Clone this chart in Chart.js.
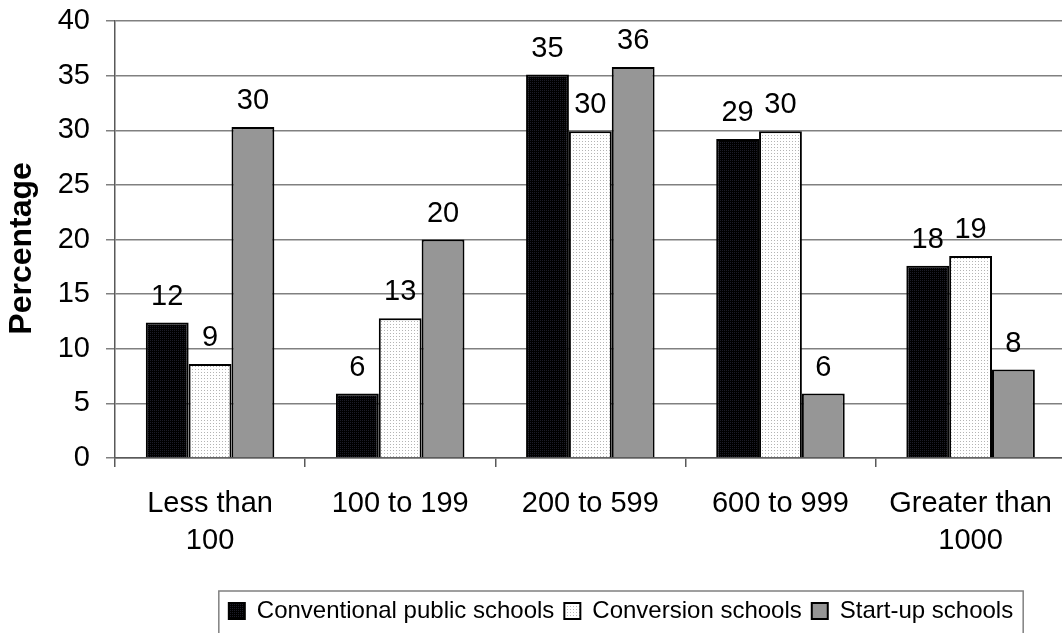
<!DOCTYPE html>
<html>
<head>
<meta charset="utf-8">
<script src="https://cdn.jsdelivr.net/npm/chart.js@4.4.1/dist/chart.umd.min.js"></script>
<style>
  html, body { margin: 0; padding: 0; background: #fff; overflow: hidden; }
  canvas { display: block; }
</style>
</head>
<body>
<canvas id="myChart" width="1070" height="633"></canvas>
<script>
var categories = [["Less than", "100"], "100 to 199", "200 to 599", "600 to 999", ["Greater than", "1000"]];
var conventional = [12.4, 5.9, 35.1, 29.2, 17.6];
var conversion = [8.6, 12.8, 29.9, 29.9, 18.5];
var startup = [30.3, 20.0, 35.8, 5.9, 8.1];
var yTicks = [0, 5, 10, 15, 20, 25, 30, 35, 40];

var FONT = "'Liberation Sans', Arial, sans-serif";

function makePattern(bg, dot, step) {
  var c = document.createElement("canvas");
  c.width = step;
  c.height = step;
  var g = c.getContext("2d");
  g.fillStyle = bg;
  g.fillRect(0, 0, step, step);
  g.fillStyle = dot;
  g.fillRect(0, 0, 1, 1);
  return document.getElementById("myChart").getContext("2d").createPattern(c, "repeat");
}

var blackFill = makePattern("#000000", "#1c1c28", 2);
var dotFill = makePattern("#ffffff", "#b4b4b4", 3);

var valueLabels = {
  id: "valueLabels",
  afterDatasetsDraw: function (chart) {
    var ctx = chart.ctx;
    ctx.save();
    ctx.font = "29px " + FONT;
    ctx.fillStyle = "#000";
    ctx.textAlign = "center";
    ctx.textBaseline = "alphabetic";
    chart.data.datasets.forEach(function (ds, i) {
      chart.getDatasetMeta(i).data.forEach(function (bar, j) {
        ctx.fillText(Math.round(ds.data[j]), bar.x, bar.y - 18);
      });
    });
    ctx.restore();
  },
};

// legend sits right of centre in the original, with a grey frame round it
var legendFrame = {
  id: "legendFrame",
  afterLayout: function (chart) {
    chart.legend.left += 86;
    chart.legend.right += 86;
  },
  afterDraw: function (chart) {
    var lg = chart.legend;
    var w = lg.lineWidths[0];
    var x0 = (lg.left + 10 + lg.right - w) / 2;
    var ctx = chart.ctx;
    ctx.save();
    ctx.strokeStyle = "#808080";
    ctx.lineWidth = 1.5;
    ctx.strokeRect(x0 - 10, lg.top + 2, w + 10, 80);
    ctx.restore();
  },
};

var ctx = document.getElementById("myChart").getContext("2d");
var myChart = new Chart(ctx, {
  type: "bar",
  data: {
    labels: categories,
    datasets: [
      {
        label: "Conventional public schools",
        data: conventional,
        backgroundColor: blackFill,
        borderColor: "#000",
        borderWidth: 2,
      },
      {
        label: "Conversion schools",
        data: conversion,
        backgroundColor: dotFill,
        borderColor: "#000",
        borderWidth: 2,
      },
      {
        label: "Start-up schools",
        data: startup,
        backgroundColor: "#969696",
        borderColor: "#000",
        borderWidth: 2,
      },
    ],
  },
  options: {
    responsive: false,
    animation: false,
    layout: {
      padding: { top: 21, left: 0, right: 0, bottom: 0 },
    },
    datasets: {
      bar: {
        categoryPercentage: 0.676,
        barPercentage: 1,
      },
    },
    scales: {
      x: {
        grid: {
          offset: true,
          drawOnChartArea: false,
          tickLength: 9,
          color: "#595959",
          lineWidth: 1.5,
        },
        border: { color: "#595959", width: 1.5 },
        ticks: {
          color: "#000",
          font: { family: FONT, size: 29, lineHeight: 1.28 },
          padding: 18,
          maxRotation: 0,
        },
        afterFit: function (scale) {
          scale.height = 131;
        },
      },
      y: {
        min: 0,
        max: 40,
        afterBuildTicks: function (scale) {
          scale.ticks = yTicks.map(function (v) {
            return { value: v };
          });
        },
        grid: {
          color: "#808080",
          lineWidth: 1.5,
          tickLength: 9,
        },
        border: { color: "#595959", width: 1.5 },
        ticks: {
          color: "#000",
          font: { family: FONT, size: 29 },
          padding: 16,
        },
        title: {
          display: true,
          text: "Percentage  ",
          color: "#000",
          font: { family: FONT, size: 32, weight: "bold" },
          padding: { top: 3, bottom: 0 },
        },
        afterFit: function (scale) {
          scale.width = 115;
          scale.paddingTop = 0;
          scale.paddingBottom = 0;
        },
      },
    },
    plugins: {
      legend: {
        display: true,
        position: "bottom",
        labels: {
          color: "#000",
          font: { family: FONT, size: 24 },
          boxWidth: 16,
          boxHeight: 16,
          padding: 10,
        },
      },
      tooltip: { enabled: false },
    },
  },
  plugins: [valueLabels, legendFrame],
});
</script>
</body>
</html>
